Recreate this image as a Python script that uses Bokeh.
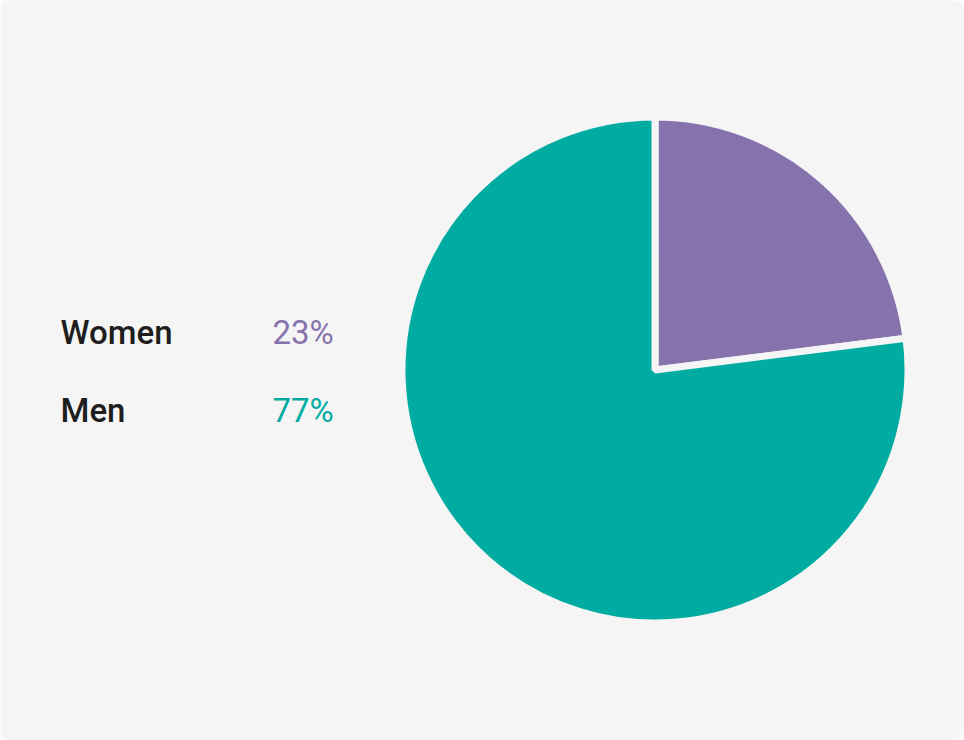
import math
from bokeh.plotting import figure
from bokeh.models import ColumnDataSource, Range1d
from bokeh.core.properties import value
from bokeh.embed import file_html
from bokeh.resources import INLINE

# ---- data ----
labels = ["Women", "Men"]
shares = [23, 77]
colors = ["#8673AD", "#00ABA1"]
pct_labels = [f"{v}%" for v in shares]

BG = "#F5F5F5"
W, H = 964, 740

p = figure(width=W, height=H, output_backend="svg", toolbar_location=None,
           x_range=Range1d(0, W), y_range=Range1d(0, H),
           min_border=0, background_fill_color=BG, border_fill_color=BG)
p.axis.visible = False
p.grid.visible = False
p.outline_line_color = None
p.styles = {"border-radius": "10px", "overflow": "hidden"}

# pie geometry (screen-like units)
cx, cy, r = 654.5, H - 369.5, 253
total = sum(shares)
starts, ends = [], []
a = math.pi / 2
for v in shares:
    starts.append(a)
    a -= v / total * 2 * math.pi
    ends.append(a)

src = ColumnDataSource(dict(label=labels, start=starts, end=ends, color=colors,
                            x=[cx] * len(labels), y=[cy] * len(labels)))
p.wedge(x="x", y="y", radius=r, start_angle="start", end_angle="end",
        direction="clock", fill_color="color", line_color=BG, line_width=7,
        source=src)

# legend-like labels
y0, gap = H - 331.5, 78
ys = [y0 - i * gap for i in range(len(labels))]
tsrc = ColumnDataSource(dict(x=[60] * len(labels), px=[272] * len(labels), y=ys,
                             label=labels, pct=pct_labels, color=colors))
p.text(x="x", y="y", text="label", source=tsrc, text_font=value("Roboto Medium"),
       text_font_size="33px", text_color="#1E1E1E", text_baseline="alphabetic",
       text_align="left")
p.text(x="px", y="y", text="pct", source=tsrc, text_font=value("Roboto"),
       text_font_size="33px", text_color="color", text_baseline="alphabetic",
       text_align="left")

open("out.html", "w").write(file_html(p, INLINE))
